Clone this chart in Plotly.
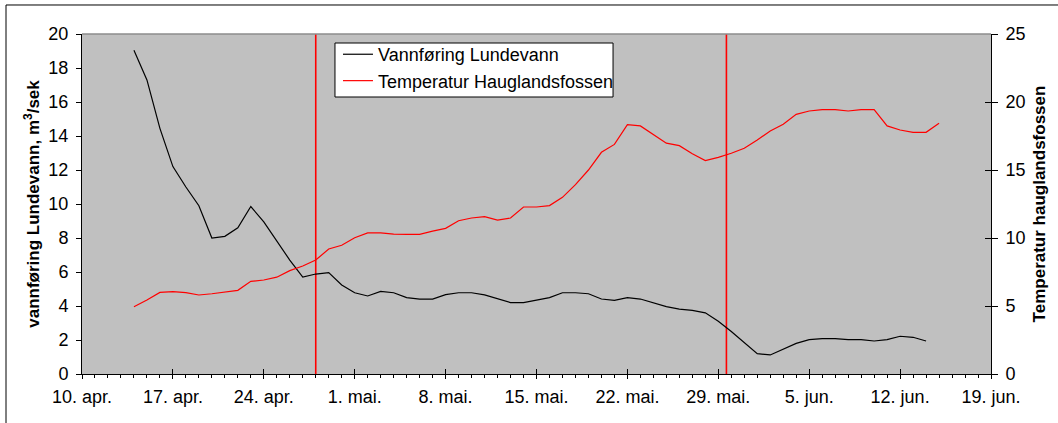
import pandas as pd
import plotly.graph_objects as go

# ---- data ----
flow_start = "2005-04-14"
flow_values = [19.05, 17.3, 14.45, 12.2, 11.0, 9.9, 8.0, 8.1, 8.6, 9.85,
               8.95, 7.8, 6.7, 5.7, 5.88, 5.96, 5.24, 4.78, 4.59, 4.86,
               4.78, 4.49, 4.41, 4.41, 4.67, 4.78, 4.78, 4.65, 4.43, 4.2,
               4.2, 4.35, 4.49, 4.78, 4.78, 4.72, 4.41, 4.33, 4.49, 4.41,
               4.2, 3.96, 3.82, 3.74, 3.6, 3.1, 2.5, 1.85, 1.2, 1.12,
               1.45, 1.8, 2.02, 2.08, 2.08, 2.02, 2.02, 1.94, 2.02, 2.22,
               2.16, 1.94]

temp_start = "2005-04-14"
temp_values = [4.95, 5.44, 6.0, 6.05, 5.98, 5.81, 5.9, 6.0, 6.15, 6.81,
               6.91, 7.12, 7.6, 7.94, 8.38, 9.19, 9.47, 10.02, 10.37, 10.37,
               10.29, 10.27, 10.27, 10.51, 10.71, 11.27, 11.47, 11.57, 11.32, 11.47,
               12.28, 12.28, 12.38, 12.99, 13.92, 15.0, 16.3, 16.88, 18.33, 18.24,
               17.62, 16.97, 16.79, 16.2, 15.69, 15.93, 16.23, 16.6, 17.2, 17.87,
               18.36, 19.09, 19.34, 19.44, 19.44, 19.34, 19.44, 19.44, 18.24, 17.94,
               17.77, 17.77, 18.43]

marker_dates = ["2005-04-28", "2005-05-29 15:00"]

tick_dates = ["2005-04-10", "2005-04-17", "2005-04-24", "2005-05-01", "2005-05-08",
              "2005-05-15", "2005-05-22", "2005-05-29", "2005-06-05", "2005-06-12",
              "2005-06-19"]
tick_labels = ["10. apr.", "17. apr.", "24. apr.", "1. mai.", "8. mai.", "15. mai.",
               "22. mai.", "29. mai.", "5. jun.", "12. jun.", "19. jun."]

x_range = ["2005-04-10", "2005-06-19"]
flow_range = [0, 20]
temp_range = [0, 25]

flow_dates = pd.date_range(flow_start, periods=len(flow_values), freq="D")
temp_dates = pd.date_range(temp_start, periods=len(temp_values), freq="D")

FONT = "Liberation Sans, Arial, sans-serif"
RED = "#FF0000"

fig = go.Figure()

# vertical red marker lines
for d in marker_dates:
    fig.add_trace(go.Scatter(x=[d, d], y=flow_range, mode="lines",
                             line=dict(color=RED, width=1.6),
                             showlegend=False, hoverinfo="skip"))

fig.add_trace(go.Scatter(x=flow_dates, y=flow_values, mode="lines",
                         name="Vannføring Lundevann",
                         line=dict(color="#000000", width=1.2)))
fig.add_trace(go.Scatter(x=temp_dates, y=temp_values, mode="lines",
                         name="Temperatur Hauglandsfossen", yaxis="y2",
                         line=dict(color=RED, width=1.2)))

# helper traces that activate the inner-tick axes (cross ticks)
fig.add_trace(go.Scatter(x=[x_range[0]], y=[-1], xaxis="x2", yaxis="y", mode="lines",
                         showlegend=False, hoverinfo="skip"))
fig.add_trace(go.Scatter(x=[x_range[0]], y=[-1], xaxis="x", yaxis="y3", mode="lines",
                         showlegend=False, hoverinfo="skip"))

tickfont = dict(family=FONT, size=18, color="#000000")

fig.update_layout(
    width=1058, height=423,
    margin=dict(l=82, r=67, t=34, b=49),
    paper_bgcolor="white",
    plot_bgcolor="#C0C0C0",
    font=dict(family=FONT, size=18, color="#000000"),
    showlegend=True,
    legend=dict(x=0.2816, y=0.994, xanchor="left", yanchor="top",
                bgcolor="rgba(0,0,0,0)", borderwidth=0,
                font=dict(family=FONT, size=18, color="#000000"),
                tracegroupgap=0, itemwidth=30),
    xaxis=dict(type="date", range=x_range, tickvals=tick_dates, ticktext=tick_labels,
               ticks="outside", ticklen=4, tickcolor="#000000", tickwidth=1,
               showline=True, linecolor="#000000", linewidth=1,
               showgrid=False, zeroline=False, tickfont=tickfont,
               ticklabelstandoff=2, automargin=False,
               minor=dict(dtick=86400000, ticks="outside", ticklen=3,
                          tickcolor="#000000", showgrid=False)),
    xaxis2=dict(type="date", range=x_range, overlaying="x", anchor="y",
                tickvals=tick_dates, ticks="inside", ticklen=5, tickcolor="#000000",
                showticklabels=False, showline=False, showgrid=False, zeroline=False,
                automargin=False),
    yaxis=dict(range=flow_range, dtick=2, ticks="outside", ticklen=5,
               tickcolor="#000000", showline=True, linecolor="#000000", linewidth=1,
               showgrid=False, zeroline=False, tickfont=tickfont,
               ticklabelstandoff=4, automargin=False,
               title=dict(text="<b>vannføring Lundevann, m<sup>3</sup>/sek</b>",
                          font=dict(family=FONT, size=17, color="#000000"),
                          standoff=4)),
    yaxis2=dict(range=temp_range, dtick=5, overlaying="y", side="right", anchor="x",
                ticks="outside", ticklen=6, tickcolor="#000000",
                showline=True, linecolor="#000000", linewidth=1,
                showgrid=False, zeroline=False, tickfont=tickfont,
                ticklabelstandoff=4, automargin=False,
                title=dict(text="<b>Temperatur hauglandsfossen</b>",
                           font=dict(family=FONT, size=17, color="#000000"),
                           standoff=8)),
    yaxis3=dict(range=temp_range, dtick=5, overlaying="y", side="right", anchor="x",
                ticks="inside", ticklen=6, tickcolor="#000000",
                showticklabels=False, showline=False, showgrid=False, zeroline=False,
                automargin=False),
    shapes=[
        # gray top border of plot area
        dict(type="line", xref="paper", yref="paper", x0=0, x1=1, y0=1, y1=1,
             line=dict(color="#8C8C8C", width=1.5)),
        # legend box
        dict(type="rect", xref="paper", yref="paper", x0=0.2783, x1=0.5842,
             y0=0.8147, y1=0.9735, fillcolor="white", layer="above",
             line=dict(color="#000000", width=1)),
        # outer chart frame (left and top edges visible)
        dict(type="rect", xref="paper", yref="paper", x0=-0.0836, x1=1.2,
             y0=-0.3, y1=1.0853, line=dict(color="#000000", width=1)),
    ],
)

fig.write_html("out.html", config={"displayModeBar": False},
               post_script="document.body.style.margin='0';")
